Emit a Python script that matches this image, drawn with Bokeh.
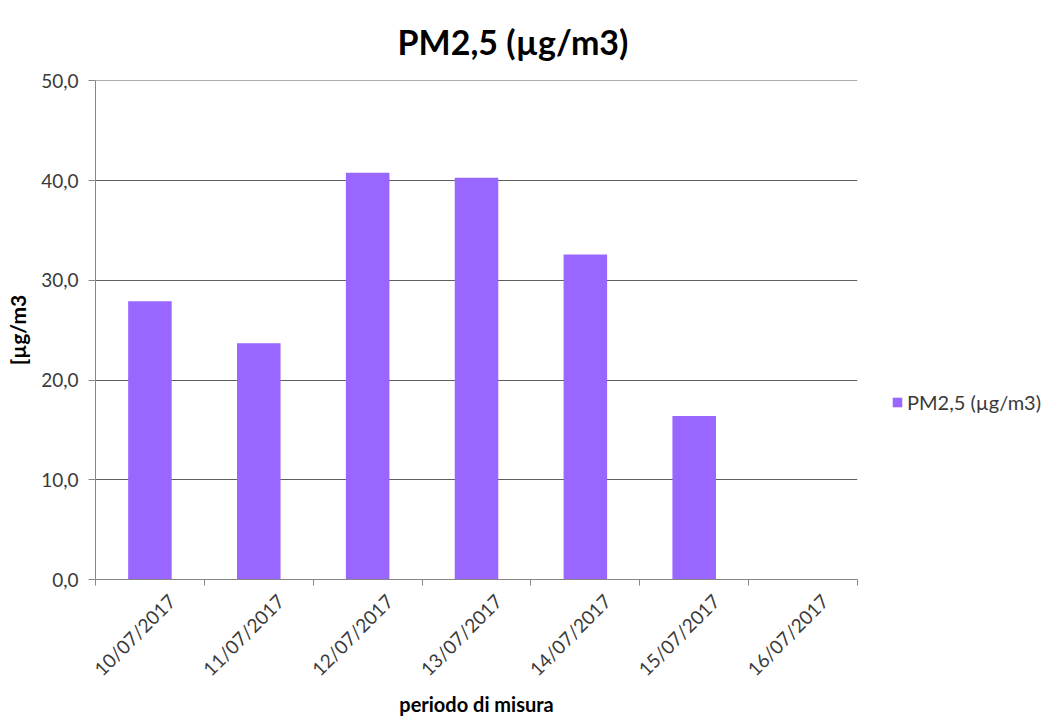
from bokeh.plotting import figure
from bokeh.models import (Range1d, FixedTicker, Legend, LegendItem, ColumnDataSource)
from bokeh.layouts import row
from bokeh.embed import file_html
from bokeh.resources import INLINE
import math

# ---- data ----
dates = ["10/07/2017", "11/07/2017", "12/07/2017", "13/07/2017",
         "14/07/2017", "15/07/2017", "16/07/2017"]
pm25 = [27.9, 23.7, 40.8, 40.3, 32.6, 16.4, float("nan")]
y_ticks = [0, 10, 20, 30, 40, 50]
y_tick_labels = ["0,0", "10,0", "20,0", "30,0", "40,0", "50,0"]
series_name = "PM2,5 (µg/m3)"
title_text = "PM2,5 (µg/m3)"
x_title = "periodo di misura"
y_title = "[µg/m3"

FONT = "Lato"
BAR = "#9966ff"
LABEL_SHIFT = 0.2  # Excel-style offset of rotated category labels

xs = [i + 0.5 for i in range(len(dates))]
label_pos = [x + LABEL_SHIFT for x in xs]
src = ColumnDataSource(dict(x=xs, top=pm25))

W_MAIN = 867
W_LEG = 1053 - W_MAIN
H = 720

p = figure(width=W_MAIN, height=H, output_backend="svg", toolbar_location=None,
           x_range=Range1d(0, len(dates)), y_range=Range1d(0, 50.05),
           min_border_left=95, min_border_right=10, min_border_top=80,
           min_border_bottom=141)
p.outline_line_color = None
p.background_fill_color = "white"
p.border_fill_color = "white"

r = p.vbar(x="x", top="top", width=0.4, source=src, fill_color=BAR, line_color=None)

# title
p.title.text = title_text
p.title.text_font = FONT
p.title.text_font_size = "34px"
p.title.text_font_style = "bold"
p.title.text_color = "#000000"
p.title.align = "left"
p.title.offset = 302
p.title.standoff = 37

# y axis
ya = p.yaxis[0]
ya.ticker = FixedTicker(ticks=y_ticks)
ya.major_label_overrides = {t: l for t, l in zip(y_ticks, y_tick_labels)}
ya.major_label_text_font = FONT
ya.major_label_text_font_size = "19px"
ya.major_label_text_color = "#3a3a3a"
ya.major_label_standoff = 10
ya.axis_line_color = "#868686"
ya.major_tick_line_color = "#868686"
ya.major_tick_in = 0
ya.major_tick_out = 7
ya.minor_tick_line_color = None
ya.axis_label = y_title
ya.axis_label_text_font = FONT
ya.axis_label_text_font_style = "bold"
ya.axis_label_text_font_size = "21px"
ya.axis_label_text_color = "#000000"
ya.axis_label_standoff = 8

# x axis
xa = p.xaxis[0]
xa.ticker = FixedTicker(ticks=label_pos, minor_ticks=list(range(len(dates) + 1)))
xa.major_label_overrides = {x: d for x, d in zip(label_pos, dates)}
xa.major_label_orientation = math.pi / 4
xa.major_label_text_font = FONT
xa.major_label_text_font_size = "19px"
xa.major_label_text_color = "#3a3a3a"
xa.major_label_standoff = 12
xa.axis_line_color = "#868686"
xa.major_tick_line_color = None
xa.major_tick_out = 0
xa.minor_tick_line_color = "#868686"
xa.minor_tick_in = 0
xa.minor_tick_out = 6
xa.axis_label = x_title
xa.axis_label_text_font = FONT
xa.axis_label_text_font_style = "bold"
xa.axis_label_text_font_size = "20px"
xa.axis_label_text_color = "#000000"
xa.axis_label_standoff = 1

# grid
p.xgrid.grid_line_color = None
p.ygrid.ticker = FixedTicker(ticks=y_ticks)
p.ygrid.grid_line_color = "#5f5f5f"
p.ygrid.grid_line_width = 1

# ---- legend panel (separate small plot to the right) ----
pl = figure(width=W_LEG, height=H, output_backend="svg", toolbar_location=None,
            x_range=Range1d(0, 1), y_range=Range1d(0, 1),
            min_border=0, min_border_left=0, min_border_right=0,
            min_border_top=0, min_border_bottom=0)
pl.axis.visible = False
pl.grid.visible = False
pl.outline_line_color = None
pl.background_fill_color = "white"
pl.border_fill_color = "white"
# legend proxy: a bar placed outside the visible range, only used for its swatch
leg_src = ColumnDataSource(dict(x=[5], top=[1]))
lr = pl.vbar(x="x", top="top", width=0.4, source=leg_src, fill_color=BAR, line_color=None)

legend = Legend(items=[LegendItem(label=series_name, renderers=[lr])],
                location=(24, 165), padding=0, margin=0,
                border_line_color=None, background_fill_alpha=0,
                glyph_width=12, glyph_height=12, label_standoff=4,
                label_text_font=FONT, label_text_font_size="20px",
                label_text_color="#3a3a3a")
pl.add_layout(legend, "center")

layout = row(p, pl, spacing=0)
open("out.html", "w").write(file_html(layout, INLINE))
